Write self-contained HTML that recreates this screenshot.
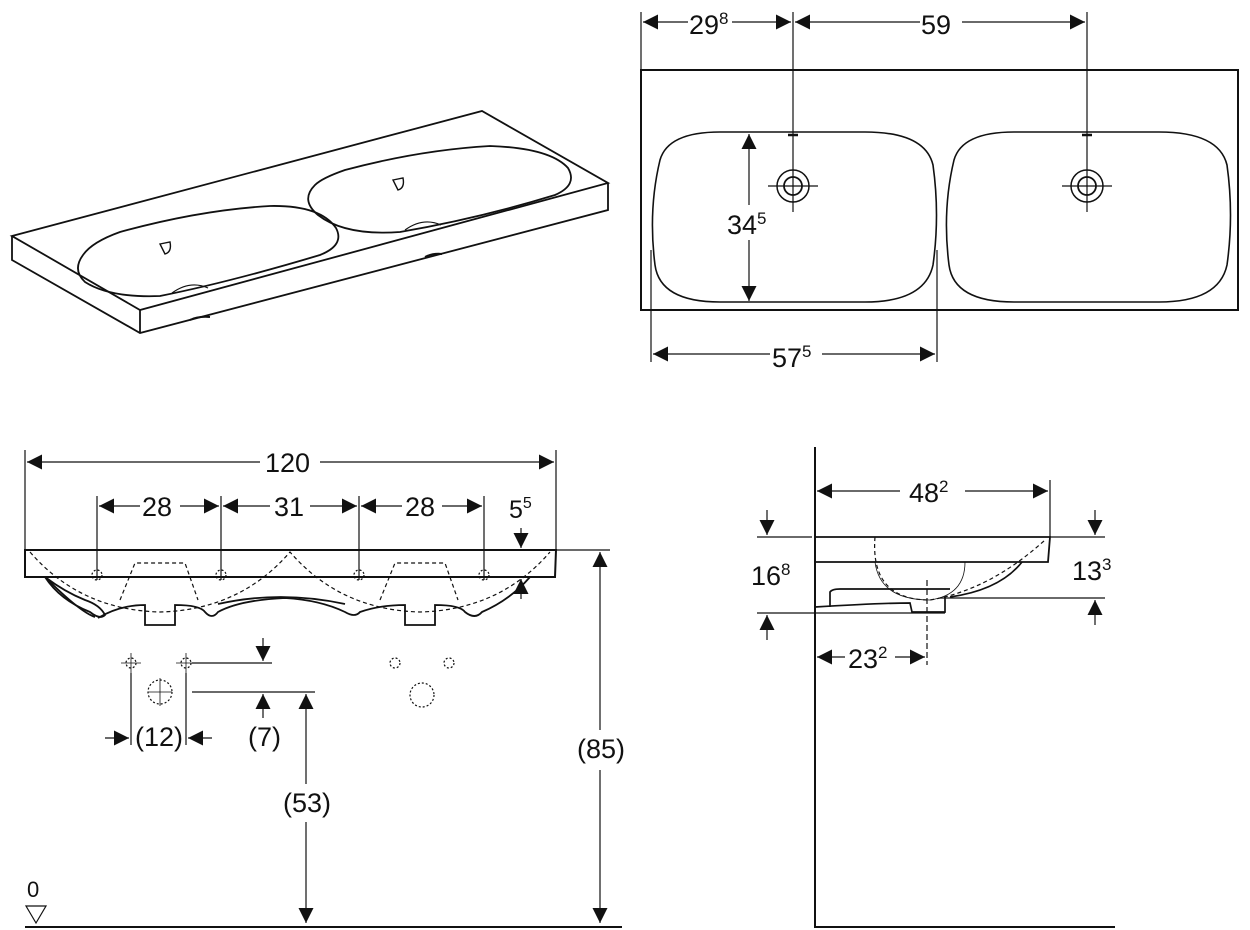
<!DOCTYPE html>
<html><head><meta charset="utf-8"><style>
html,body{margin:0;padding:0;background:#fff;}
svg{display:block;}
text{font-family:"Liberation Sans",sans-serif;fill:#111;}
</style></head><body>
<svg width="1250" height="930" viewBox="0 0 1250 930" xmlns="http://www.w3.org/2000/svg">
<defs>
<marker id="a" viewBox="0 0 10 10" refX="10" refY="5" markerWidth="15" markerHeight="15" markerUnits="userSpaceOnUse" orient="auto-start-reverse"><path d="M0,0 L10,5 L0,10 z" fill="#111" stroke="none"/></marker>
</defs>
<g stroke="#111" fill="none" stroke-width="1.2">

<!-- ISOMETRIC -->
<g stroke-width="1.8">
<path d="M12,236 L482,111 L608,183 L140,310 Z"/>
<path d="M12,236 L12,260 L140,333 L608,210 L608,183"/>
<path d="M140,310 L140,333"/>
</g>
<path d="M140,310 L608,183" stroke-width="0.9"/>
<path d="M83,255 Q72,270 85,282 Q110,298 160,296 Q230,282 320,255 Q345,245 336,228 Q320,205 270,206 Q200,210 120,232 Q92,242 83,255 Z" stroke-width="1.8"/>
<path d="M315,185 Q300,200 318,215 Q345,236 400,232 Q480,218 555,195 Q578,185 568,168 Q550,148 490,146 Q420,150 345,170 Q322,178 315,185 Z" stroke-width="1.8"/>
<path d="M172,293 Q190,280 208,288"/><path d="M405,230 Q423,217 441,225"/>
<path d="M160,244 L170,242 Q172,252 165,254 Z" stroke-width="1.4"/>
<path d="M393,180 L403,178 Q405,188 398,190 Z" stroke-width="1.4"/>
<path d="M190,320 Q198,316 210,317" stroke-width="2"/><path d="M425,257 Q433,253 442,254" stroke-width="2"/>

<!-- PLAN VIEW -->
<rect x="641" y="70" width="597" height="240" stroke-width="2"/>
<path d="M660,160 Q668,132 720,132 L865,132 Q925,132 933,165 Q940,215 933,265 Q925,302 865,302 L720,302 Q660,302 655,265 Q648,210 660,160 Z" stroke-width="1.6"/>
<path d="M954,160 Q962,132 1014,132 L1159,132 Q1219,132 1227,165 Q1234,215 1227,265 Q1219,302 1159,302 L1014,302 Q954,302 949,265 Q942,210 954,160 Z" stroke-width="1.6"/>
<circle cx="793" cy="186" r="16" stroke-width="1.5"/><circle cx="793" cy="186" r="9" stroke-width="1.8"/>
<circle cx="1087" cy="186" r="16" stroke-width="1.5"/><circle cx="1087" cy="186" r="9" stroke-width="1.8"/>
<path d="M768,186 H818 M1062,186 H1112 M1087,200 V212"/>
<path d="M793,12 V200 M1087,12 V200 M793,200 V212"/>
<path d="M641,12 V70"/>
<path d="M788,135 h10 M1082,135 h10" stroke-width="2.5"/>
<path d="M643,22 H688 M732,22 H791" marker-start="url(#a)" marker-end="url(#a)"/>
<path d="M795,22 H920 M962,22 H1085" marker-start="url(#a)" marker-end="url(#a)"/>
<path d="M749,134 V205 M749,240 V301" marker-start="url(#a)" marker-end="url(#a)"/>
<path d="M651,250 V362 M937,250 V362"/>
<path d="M653,354 H770 M822,354 H935" marker-start="url(#a)" marker-end="url(#a)"/>

<!-- FRONT VIEW -->
<path d="M25,550 H556 L555,577 H25 Z" stroke-width="2"/>
<path d="M25,450 V550 M556,450 V550"/>
<path d="M27,462 H260 M320,462 H554" marker-start="url(#a)" marker-end="url(#a)"/>
<path d="M97,496 V580 M221,496 V580 M359,496 V580 M484,496 V580"/>
<path d="M99,506 H140 M180,506 H219" marker-start="url(#a)" marker-end="url(#a)"/>
<path d="M223,506 H270 M310,506 H357" marker-start="url(#a)" marker-end="url(#a)"/>
<path d="M361,506 H402 M442,506 H482" marker-start="url(#a)" marker-end="url(#a)"/>
<g stroke-width="1.8">
<path d="M45,577 Q60,600 90,612 Q100,620 105,615 Q100,605 85,600 Q65,592 45,577"/>
<path d="M45,577 Q80,612 95,617"/>
<path d="M98,618 Q120,605 145,605 L145,625 L175,625 L175,605 Q200,605 205,612 Q212,620 218,612 Q240,600 285,598 Q320,600 345,612 Q355,618 360,612 Q380,605 405,605 L405,625 L435,625 L435,605 Q460,605 465,612 Q475,620 482,612 Q510,600 530,577"/>
<path d="M218,604 Q280,590 345,604"/>
</g>
<path d="M30,552 Q80,610 160,612 Q240,610 290,552 Q340,610 420,612 Q500,610 550,552" stroke-dasharray="4,3"/>
<path d="M120,600 L135,563 H185 L198,600 M380,600 L395,563 H445 L458,600" stroke-dasharray="4,3"/>
<g stroke-dasharray="2,2"><circle cx="97" cy="575" r="5"/><circle cx="221" cy="575" r="5"/><circle cx="359" cy="575" r="5"/><circle cx="484" cy="575" r="5"/></g>
<path d="M490,577 H515 M556,550 H610"/>
<path d="M521,528 V548" marker-end="url(#a)"/>
<path d="M521,599 V579" marker-end="url(#a)"/>
<path d="M600,923 V770 M600,730 V552" marker-start="url(#a)" marker-end="url(#a)"/>
<path d="M25,927 H622" stroke-width="2"/>
<path d="M26,906 H46 L36,923 Z"/>
<!-- holes -->
<path d="M121,663 H141 M131,653 V673 M176,663 H196 M186,653 V673 M148,692 H172 M160,678 V706" stroke-width="0.8"/>
<g stroke-dasharray="2,2"><circle cx="131" cy="663" r="5"/><circle cx="186" cy="663" r="5"/><circle cx="160" cy="692" r="12"/><circle cx="395" cy="663" r="5"/><circle cx="449" cy="663" r="5"/><circle cx="422" cy="695" r="12"/></g>
<path d="M131,673 V745 M186,673 V745"/>
<path d="M105,738 H129" marker-end="url(#a)"/>
<path d="M212,738 H188" marker-end="url(#a)"/>
<path d="M192,663 H272 M192,692 H315"/>
<path d="M263,638 V661" marker-end="url(#a)"/>
<path d="M263,718 V694" marker-end="url(#a)"/>
<path d="M306,923 V822 M306,784 V694" marker-start="url(#a)" marker-end="url(#a)"/>

<!-- SIDE VIEW -->
<path d="M815,447 V927 H1115" stroke-width="2"/>
<path d="M815,537 H1050 L1048,562 H815" stroke-width="1.8"/>
<path d="M1050,480 V537"/>
<path d="M817,491 H900 M965,491 H1048" marker-start="url(#a)" marker-end="url(#a)"/>
<path d="M1022,562 Q1000,590 950,597 M830,607 L830,592 Q832,589 840,589 H950 M815,607 Q880,603 910,603 L912,612 H945 V597" stroke-width="1.7"/>
<path d="M875,562 Q880,600 930,600 Q965,595 965,562" stroke-width="0.8"/>
<path d="M875,537 Q870,600 930,600 Q990,590 1045,540" stroke-dasharray="4,3"/>
<path d="M927,580 V665" stroke-dasharray="6,3"/>
<path d="M757,537 H812 M757,613 H945 M940,598 H1105 M1050,537 H1105"/>
<path d="M767,510 V535" marker-end="url(#a)"/>
<path d="M767,640 V615" marker-end="url(#a)"/>
<path d="M1095,510 V535" marker-end="url(#a)"/>
<path d="M1095,625 V600" marker-end="url(#a)"/>
<path d="M817,657 H845 M895,657 H925" marker-start="url(#a)" marker-end="url(#a)"/>
</g>

<g font-size="27">
<text x="689" y="34">29<tspan font-size="17" dy="-10">8</tspan></text>
<text x="921" y="34">59</text>
<text x="727" y="234">34<tspan font-size="17" dy="-10">5</tspan></text>
<text x="772" y="367">57<tspan font-size="17" dy="-10">5</tspan></text>
<text x="265" y="472">120</text>
<text x="142" y="516">28</text>
<text x="274" y="516">31</text>
<text x="405" y="516">28</text>
<text x="509" y="518" font-size="25">5<tspan font-size="16" dy="-10">5</tspan></text>
<text x="577" y="758">(85)</text>
<text x="135" y="746">(12)</text>
<text x="248" y="746">(7)</text>
<text x="283" y="812">(53)</text>
<text x="27" y="897" font-size="22">0</text>
<text x="909" y="502">48<tspan font-size="17" dy="-10">2</tspan></text>
<text x="751" y="585">16<tspan font-size="17" dy="-10">8</tspan></text>
<text x="1072" y="580">13<tspan font-size="17" dy="-10">3</tspan></text>
<text x="848" y="668">23<tspan font-size="17" dy="-10">2</tspan></text>
</g>
</svg>
</body></html>
